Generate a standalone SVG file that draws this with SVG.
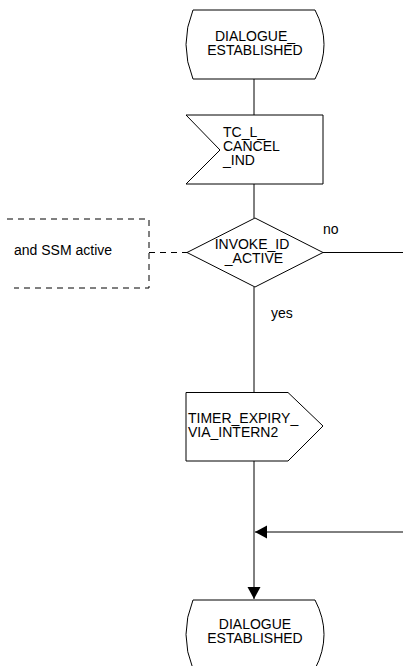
<svg xmlns="http://www.w3.org/2000/svg" width="403" height="666" viewBox="0 0 403 666">
<style>
.s{fill:#fff;stroke:#000;stroke-width:1}
.t{font-family:"Liberation Sans",Arial,sans-serif;font-size:14px;fill:#000}
.c{text-anchor:middle}
.l{fill:none;stroke:#000;stroke-width:1}
.d{fill:none;stroke:#000;stroke-width:1;stroke-dasharray:6,5}
</style>
<defs>
<marker id="ah" markerUnits="userSpaceOnUse" markerWidth="14" markerHeight="14" viewBox="0 0 14 14" refX="13" refY="7" orient="auto">
<path d="M1,0.5 L13,7 L1,13.5 Z" fill="#000"/>
</marker>
</defs>
<rect width="403" height="666" fill="#fff"/>
<g id="connectors">
<path class="l" d="M254,79 V115"/>
<path class="l" d="M254,184 V218"/>
<path class="l" d="M254,287 V392"/>
<path class="l" d="M254,461 V599" marker-end="url(#ah)"/>
<path class="l" d="M403,532 H255" marker-end="url(#ah)"/>
<path class="l" d="M323,252.5 H403"/>
<path class="d" d="M149,252.5 H187"/>
<text class="t" x="323" y="234">no</text>
<text class="t" x="271" y="318">yes</text>
</g>
<g id="state_top">
<path class="s" d="M193,10 L315,10 Q333,44.5 315,79 L193,79 Q179,44.5 193,10 Z"/>
<text class="t c" x="255" y="41">DIALOGUE_</text>
<text class="t c" x="255" y="55">ESTABLISHED</text>
</g>
<g id="input_cancel">
<path class="s" d="M186,115 H323 V184 H186 L220,150 Z"/>
<text class="t" x="223" y="137">TC_L_</text>
<text class="t" x="223" y="151">CANCEL</text>
<text class="t" x="223" y="165">_IND</text>
</g>
<g id="decision">
<path class="s" d="M255,218 L323,252.5 L255,287 L187,252.5 Z"/>
<text class="t c" x="252" y="249">INVOKE_ID</text>
<text class="t c" x="254" y="263">_ACTIVE</text>
</g>
<g id="comment">
<path class="d" d="M7,219 H149 V288 H14"/>
<text class="t" x="14" y="255">and SSM active</text>
</g>
<g id="output_timer">
<path class="s" d="M186,392.5 H288 L323,426 L288,461 H186 Z"/>
<text class="t" x="188" y="423">TIMER_EXPIRY_</text>
<text class="t" x="188" y="437">VIA_INTERN2</text>
</g>
<g id="state_bottom">
<path class="s" d="M193,600 L315,600 Q333,634.5 315,669 L193,669 Q179,634.5 193,600 Z"/>
<text class="t c" x="255" y="629">DIALOGUE</text>
<text class="t c" x="255" y="643">ESTABLISHED</text>
</g>
</svg>
